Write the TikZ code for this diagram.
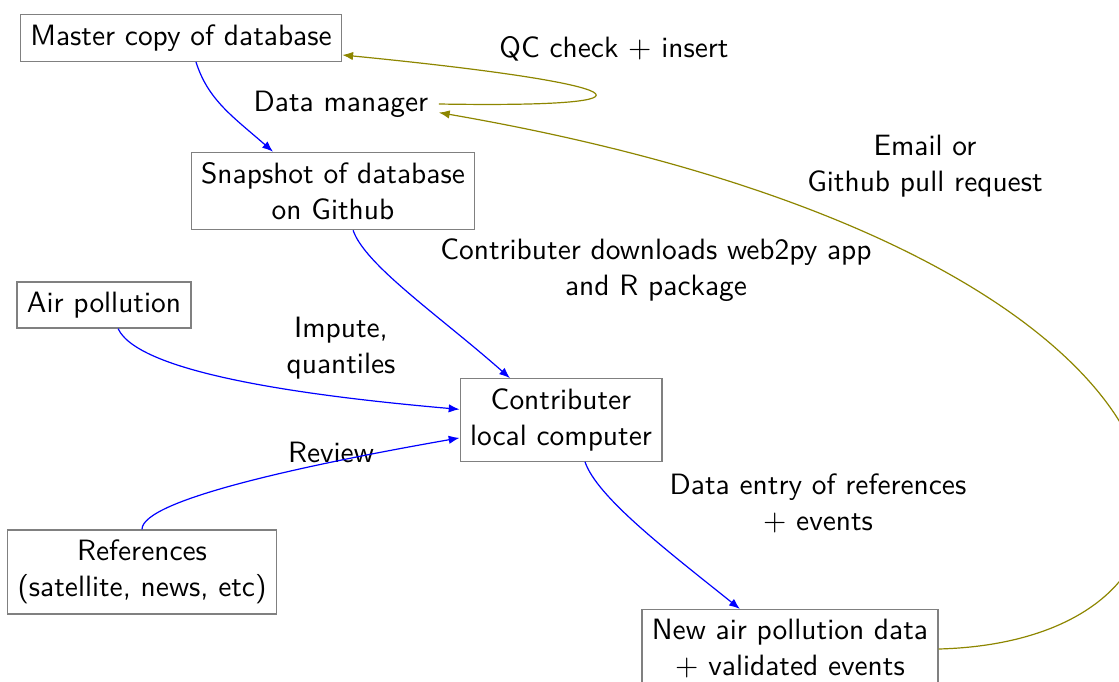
\documentclass[tikz,border=0pt]{standalone}
\usepackage{xcolor}
\usepackage{tikz}
\usetikzlibrary{positioning, arrows.meta, calc}
\tikzset{
    box/.style={
        rectangle,
        draw=gray,
        align=center,
        font=\sffamily\fontsize{9.8pt}{12pt}\selectfont
    },
    lbl/.style={
        align=center,
        font=\sffamily\fontsize{9.8pt}{12pt}\selectfont
    },
    flow/.style={
        blue,
        -{Latex[length=3.6pt,width=2.8pt]}
    },
    back/.style={
        olive,
        -{Latex[length=3.6pt,width=2.8pt]}
    }
}

\begin{document}
\begin{tikzpicture}[x=0.3333pt, y=-0.3333pt]

\useasboundingbox (0,0) rectangle (1119,681);

%---------------- Boxes ----------------

\node[box] (master) at (181,38) {Master copy of database};
\node[box] (snap) at (333,191) {Snapshot of database\\on Github};
\node[box] (air) at (104,305) {Air pollution};
\node[box] (contrib) at (561,420) {Contributer\\local computer};
\node[box] (refs) at (142,572) {References\\(satellite, news, etc)};
\node[box] (newdata) at (790,649) {New air pollution data\\$+$ validated events};

\node[lbl] (dm) at (341,104) {Data manager};

%---------------- Labels ----------------

\node[lbl] (qc) at (614,49) {QC check $+$ insert};
\node[lbl] (email) at (925,166) {Email or\\Github pull request};
\node[lbl] (dl) at (656,270) {Contributer downloads web2py app\\and R package};
\node[lbl] (imp) at (341,348) {Impute,\\quantiles};
\node[lbl] (rev) at (331,452) {Review};
\node[lbl] (entry) at (818,503) {Data entry of references\\$+$ events};

%---------------- Arrows ----------------

\draw[flow] ([xshift=5pt]master.south) .. controls +(12,38) and +(-40,-35) .. ([xshift=-20pt]snap.north);
\draw[flow] ([xshift=6.7pt]snap.south) .. controls +(12,35) and +(-70,-62) .. ([xshift=-17pt]contrib.north);
\draw[flow] ([xshift=4.7pt]air.south) .. controls +(21,45) and +(-149,-13) .. (contrib.174);
\draw[flow] (refs.north) .. controls +(0,-30) and +(-148,26) .. (contrib.190);
\draw[flow] ([xshift=8pt]contrib.south) .. controls +(12,35) and +(-75,-60) .. ([xshift=-16.7pt]newdata.north);

\draw[back] (dm.east) .. controls +(242,4) and +(295,29) .. (master.-6);
\draw[back] (newdata.east) .. controls +(340,-9) and +(820,142) .. (dm.-5);

\end{tikzpicture}
\end{document}
